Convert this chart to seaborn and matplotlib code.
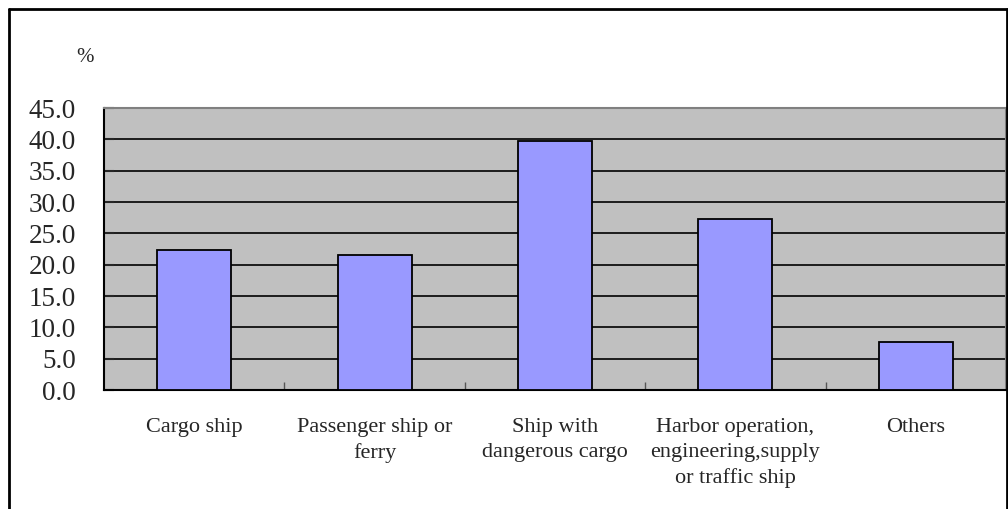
import numpy as np
import pandas as pd
import matplotlib.pyplot as plt
import seaborn as sns

# datos
categorias = ["Cargo ship", "Passenger ship or\nferry", "Ship with\ndangerous cargo",
              "Harbor operation,\nengineering,supply\nor traffic ship", "Others"]
porcentajes = [22.4, 21.6, 39.7, 27.3, 7.7]
yticks = [0, 5, 10, 15, 20, 25, 30, 35, 40, 45]

df = pd.DataFrame({"Tipo": categorias, "Porcentaje": porcentajes})

sns.set_style("white")
plt.rcParams["font.family"] = ["Liberation Serif", "DejaVu Serif"]

fig = plt.figure(figsize=(10.08, 5.09), dpi=100)
ax = fig.add_axes([104/1008, 1 - 390/509, (1006-104)/1008, (390-108)/509])
ax.set_facecolor("#C0C0C0")

sns.barplot(data=df, x="Tipo", y="Porcentaje", color="#9999FF", width=0.41,
            edgecolor="black", linewidth=1.3, saturation=1, ax=ax, zorder=3)

ax.set_ylim(0, 45)
ax.set_xlim(-0.5, 4.5)
ax.set_yticks(yticks)
ax.set_yticklabels([f"{v:.1f}" for v in yticks], fontsize=19.5)
ax.yaxis.grid(True, color="black", linewidth=1.2)
ax.set_axisbelow(True)
ax.tick_params(axis="y", direction="in", length=7, width=1.5, pad=20, left=True)
ax.set_xticks(np.arange(0.5, 4, 1), minor=True)
ax.set_xticks(np.arange(5))
ax.set_xticklabels(categorias, fontsize=16, linespacing=1.42, va="top")
ax.tick_params(axis="x", which="major", length=0, pad=20)
ax.tick_params(axis="x", which="minor", direction="in", length=6, width=1, color="#555555", bottom=True)
ax.set_xlabel("")
ax.set_ylabel("")

for lado in ["left", "bottom"]:
    ax.spines[lado].set_color("black")
    ax.spines[lado].set_linewidth(1.5)
for lado in ["top", "right"]:
    ax.spines[lado].set_color("#808080")
    ax.spines[lado].set_linewidth(1.5)

fig.text(85/1008, 1 - 57/509, "%", fontsize=15, ha="center", va="center")

# marco del grafico (sin borde inferior)
fig.add_artist(plt.Line2D([9/1008, 9/1008], [0, 1 - 9/509], color="black", linewidth=2, transform=fig.transFigure))
fig.add_artist(plt.Line2D([9/1008, 1007/1008], [1 - 9/509, 1 - 9/509], color="black", linewidth=2, transform=fig.transFigure))
fig.add_artist(plt.Line2D([1007/1008, 1007/1008], [0, 1 - 9/509], color="black", linewidth=2, transform=fig.transFigure))

fig.savefig("out.png", dpi=100)
